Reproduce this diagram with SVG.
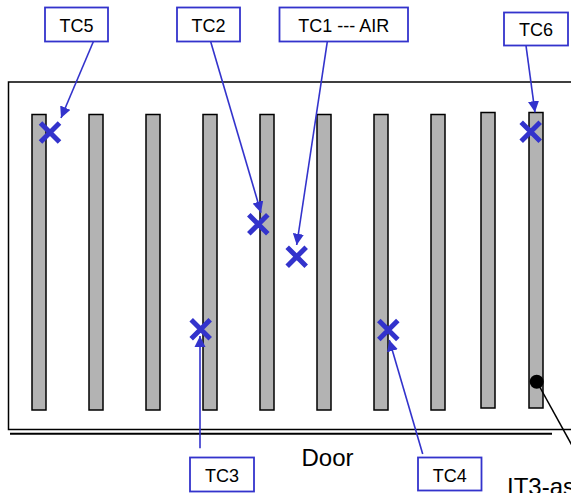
<svg xmlns="http://www.w3.org/2000/svg" width="571" height="493" viewBox="0 0 571 493">
<style>
.bar{fill:#b3b3b3;stroke:#000;stroke-width:1.5}
.box{fill:#fff;stroke:#3333cc;stroke-width:1.8}
.lbl{font-family:"Liberation Sans",Arial,sans-serif;font-size:18px;fill:#000;text-anchor:middle}
.big{font-family:"Liberation Sans",Arial,sans-serif;font-size:24px;fill:#000}
.x{stroke:#3333cc;stroke-width:5;fill:none}
.conn{stroke:#3333cc;stroke-width:1.6;fill:none;marker-end:url(#ah)}
</style>
<defs>
<marker id="ah" viewBox="0 0 10 10" refX="10" refY="5" markerWidth="7" markerHeight="7" orient="auto" markerUnits="strokeWidth">
<path d="M0,0 L10,5 L0,10 z" fill="#3333cc"/>
</marker>
</defs>
<rect width="571" height="493" fill="#fff"/>
<g id="room">
<rect x="8.5" y="82" width="580" height="347.5" fill="none" stroke="#000" stroke-width="1.5"/>
<line x1="10" y1="433.8" x2="552" y2="433.8" stroke="#000" stroke-width="2"/>
</g>
<g id="bars">
<rect class="bar" x="32" y="114.5" width="14" height="295.5"/>
<rect class="bar" x="89" y="114.5" width="14" height="295.5"/>
<rect class="bar" x="146" y="114.5" width="14" height="295.5"/>
<rect class="bar" x="203" y="114.5" width="14" height="295.5"/>
<rect class="bar" x="260" y="114.5" width="14" height="295.5"/>
<rect class="bar" x="317" y="114.5" width="14" height="295.5"/>
<rect class="bar" x="374" y="114.5" width="14" height="295.5"/>
<rect class="bar" x="431" y="114.5" width="14" height="295.5"/>
<rect class="bar" x="481" y="112.5" width="14" height="295.5"/>
<rect class="bar" x="529" y="112.5" width="14" height="295.5"/>
</g>
<g id="connectors">
<line class="conn" x1="93.3" y1="41.7" x2="61" y2="118"/>
<line class="conn" x1="210.7" y1="41.7" x2="261" y2="212.7"/>
<line class="conn" x1="327.3" y1="41.7" x2="296.7" y2="245"/>
<line class="conn" x1="526" y1="45.7" x2="535" y2="112.3"/>
<line class="conn" x1="200" y1="448.3" x2="200" y2="336"/>
<line class="conn" x1="422.7" y1="454" x2="389.3" y2="340"/>
<line x1="537" y1="382" x2="590" y2="478" stroke="#000" stroke-width="1.5"/>
</g>
<g id="marks">
<path class="x" d="M40.5,123 L59.5,142 M59.5,123 L40.5,142"/>
<path class="x" d="M248.8,214.8 L267.8,233.8 M267.8,214.8 L248.8,233.8"/>
<path class="x" d="M287.2,247.2 L306.2,266.2 M306.2,247.2 L287.2,266.2"/>
<path class="x" d="M521.2,122.2 L540.2,141.2 M540.2,122.2 L521.2,141.2"/>
<path class="x" d="M191.2,319.8 L210.2,338.8 M210.2,319.8 L191.2,338.8"/>
<path class="x" d="M378.8,320.5 L397.8,339.5 M397.8,320.5 L378.8,339.5"/>
<circle cx="536.7" cy="381.7" r="7" fill="#000"/>
</g>
<g id="TC5"><rect class="box" x="45" y="7.5" width="63" height="34"/><text class="lbl" x="76.5" y="31.5">TC5</text></g>
<g id="TC2"><rect class="box" x="177" y="7.5" width="63" height="34"/><text class="lbl" x="208.5" y="31.5">TC2</text></g>
<g id="TC1"><rect class="box" x="279.5" y="7.5" width="128.5" height="34"/><text class="lbl" x="343.7" y="31.5">TC1 --- AIR</text></g>
<g id="TC6"><rect class="box" x="504" y="12.5" width="64" height="33"/><text class="lbl" x="536" y="36">TC6</text></g>
<g id="TC3"><rect class="box" x="190" y="457.5" width="64" height="34"/><text class="lbl" x="222" y="482">TC3</text></g>
<g id="TC4"><rect class="box" x="418" y="457.5" width="63.5" height="33"/><text class="lbl" x="449.7" y="482">TC4</text></g>
<g id="texts">
<text class="big" x="301.5" y="466">Door</text>
<text class="big" x="507" y="495">IT3-as</text>
</g>
</svg>
